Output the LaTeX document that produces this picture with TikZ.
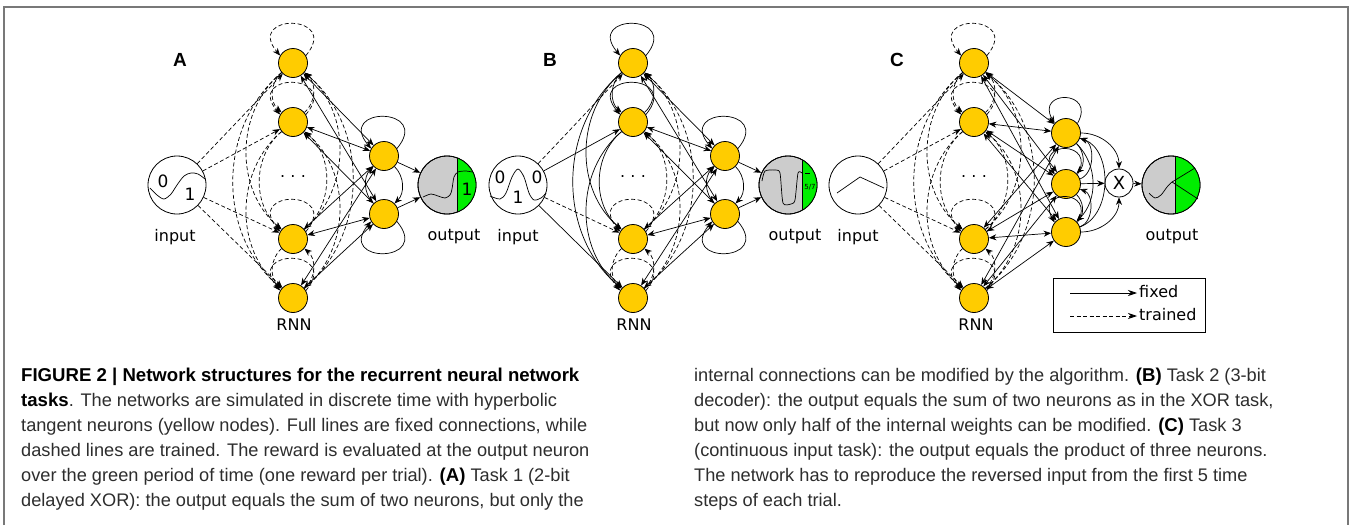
\documentclass[tikz,border=0pt]{standalone}
\usepackage{fontspec}
\setmainfont{Liberation Sans}
\newfontfamily\dvs{DejaVu Sans}
\newfontfamily\capf{Liberation Sans}
\usetikzlibrary{arrows.meta,calc}
\definecolor{neur}{RGB}{255,204,0}
\definecolor{outgray}{RGB}{204,204,204}
\definecolor{rewgreen}{RGB}{0,238,0}
\definecolor{framegray}{RGB}{120,120,120}
\definecolor{captext}{RGB}{45,45,45}
\newcommand\capb[1]{{\fontsize{18.6}{22}\selectfont\bfseries\color{black}#1}}
\begin{document}
\begin{tikzpicture}[x=1pt,y=1pt,
 neuron/.style={circle,draw,fill=neur,minimum size=29pt,inner sep=0pt,line width=0.8pt},
 io/.style={circle,draw,fill=white,minimum size=58pt,inner sep=0pt,line width=0.8pt},
 fixedarr/.style={line width=0.7pt,-{Stealth[length=7.5pt,width=6pt]}},
 fixedboth/.style={line width=0.7pt,{Stealth[length=7.5pt,width=6pt]}-{Stealth[length=7.5pt,width=6pt]}},
 trainedarr/.style={fixedarr,dash pattern=on 4pt off 2.5pt},
 wave/.style={line width=0.7pt},
 lbl/.style={font=\dvs\fontsize{16}{18}\selectfont},
 digit/.style={font=\dvs\fontsize{17}{18}\selectfont,inner sep=0pt},
 panelfont/.style={font=\bfseries\fontsize{19}{20}\selectfont},
 capl/.style={anchor=base west,inner sep=0pt,font=\capf\fontsize{18.2}{22}\selectfont,text=captext},
 legarr/.style={line width=0.8pt,-{Stealth[length=9pt,width=6pt]}},
]
\useasboundingbox (0,0) rectangle (1352,-525);
\draw[framegray,line width=2pt] (4,-525) -- (4,-7) -- (1348,-7) -- (1348,-525);

%================ PANEL A ================
\node[panelfont] (Alab) at (180,-60) {A};
\node[io] (Ain) at (177,-185) {};
\foreach \i/\y in {1/63,2/122,3/239,4/298} \node[neuron] (A\i) at (293,-\y) {};
\node[neuron] (Ah1) at (384,-156) {};
\node[neuron] (Ah2) at (384,-214) {};
\node[io,fill=outgray] (Aout) at (447,-185) {};
\node[lbl] (Adots) at (293,-177) {.\,\,.\,\,.};
\node[lbl] (Ainl) at (175,-237) {input};
\node[lbl] (Aoutl) at (454,-237) {output};
\node[lbl] (Arnnl) at (294,-325) {RNN};
% input waveform
\draw[wave] plot[smooth] coordinates {(150,-188) (157,-195) (164,-199) (171,-194) (177,-185) (184,-176) (191,-173) (198,-174) (205,-179)};
\node[digit] (Ain0) at (163,-181) {0};
\node[digit] (Ain1) at (190,-194) {1};
% output
\fill[rewgreen] ([shift={(69.8:29)}]Aout.center) arc[start angle=69.8,end angle=-69.8,radius=29] -- cycle;
\draw[line width=0.7pt] ([shift={(69.8:29)}]Aout.center) -- ([shift={(-69.8:29)}]Aout.center);
\draw[line width=0.8pt] (Aout.center) circle[radius=29];
\draw[wave] plot[smooth] coordinates {(423,-197) (431,-194) (438,-196) (445,-198) (450,-195) (452,-189) (454,-177) (458,-172) (466,-171) (472,-172)};
\node[digit] (Aout1) at (467,-189) {1};
% connections
\foreach \i in {1,...,4} \draw[trainedarr] (Ain) -- (A\i);
\foreach \i in {1,...,4} \draw[trainedarr] (A\i.30) to[out=50,in=130,looseness=5.5] (A\i.150);
\foreach \i in {1,...,4}{\foreach \j in {1,...,4}{\ifnum\i<\j
  \draw[trainedarr] (A\i) to[bend right=50] (A\j);
  \draw[trainedarr] (A\j) to[bend right=50] (A\i);
\fi}}
\foreach \i in {1,...,4}{\foreach \h in {1,2}{\draw[fixedboth] (A\i) -- (Ah\h);}}
\draw[fixedarr] (Ah1.30) to[out=50,in=130,looseness=5.5] (Ah1.150);
\draw[fixedarr] (Ah2.-30) to[out=-50,in=-130,looseness=5.5] (Ah2.-150);
\draw[fixedarr] (Ah1) to[bend left=45] (Ah2);
\draw[fixedarr] (Ah2) to[bend left=45] (Ah1);
\draw[fixedarr] (Ah1) -- (Aout);
\draw[fixedarr] (Ah2) -- (Aout);

%================ PANEL B ================
\node[panelfont] (Blab) at (550,-60) {B};
\node[io] (Bin) at (518,-185) {};
\foreach \i/\y in {1/63,2/122,3/239,4/298} \node[neuron] (B\i) at (633,-\y) {};
\node[neuron] (Bh1) at (725,-156) {};
\node[neuron] (Bh2) at (725,-214) {};
\node[io,fill=outgray] (Bout) at (788,-185) {};
\node[lbl] (Bdots) at (633,-177) {.\,\,.\,\,.};
\node[lbl] (Binl) at (518,-237) {input};
\node[lbl] (Boutl) at (795,-237) {output};
\node[lbl] (Brnnl) at (634,-325) {RNN};
\draw[wave] plot[smooth] coordinates {(490,-196) (500,-199) (506,-193) (512,-177) (518,-169) (524,-177) (529,-193) (534,-200) (541,-198) (546,-193)};
\node[digit] (Bin0a) at (500,-177) {0};
\node[digit] (Bin0b) at (537,-177) {0};
\node[digit] (Bin1) at (518,-197) {1};
\fill[rewgreen] ([shift={(61.1:29)}]Bout.center) arc[start angle=61.1,end angle=-61.1,radius=29] -- cycle;
\draw[line width=0.7pt] ([shift={(61.1:29)}]Bout.center) -- ([shift={(-61.1:29)}]Bout.center);
\draw[line width=0.8pt] (Bout.center) circle[radius=29];
\draw[wave] plot[smooth,tension=0.4] coordinates {(762,-181) (765,-171) (775,-170) (780,-173) (783,-203) (791,-204) (795,-200) (798,-173) (802,-173)};
\draw[wave] (805,-173) -- (810,-173);
\node[font=\dvs\fontsize{7}{8}\selectfont,inner sep=0pt] (Bfrac) at (810,-187) {5/7};
\foreach \i/\s in {1/trainedarr,2/fixedarr,3/trainedarr,4/fixedarr} \draw[\s] (Bin) -- (B\i);
\foreach \i/\s in {1/fixedarr,2/fixedarr,3/trainedarr,4/trainedarr} \draw[\s] (B\i.30) to[out=50,in=130,looseness=5.5] (B\i.150);
\foreach \i in {1,...,4}{\foreach \j in {1,...,4}{\ifnum\i<\j
  \ifnum\i<3 \draw[fixedarr] (B\i) to[bend right=50] (B\j);
  \else \draw[trainedarr] (B\i) to[bend right=50] (B\j);\fi
  \ifnum\j<3 \draw[fixedarr] (B\j) to[bend right=50] (B\i);
  \else \draw[trainedarr] (B\j) to[bend right=50] (B\i);\fi
\fi}}
\foreach \i in {1,...,4}{\foreach \h in {1,2}{\draw[fixedboth] (B\i) -- (Bh\h);}}
\draw[fixedarr] (Bh1.30) to[out=50,in=130,looseness=5.5] (Bh1.150);
\draw[fixedarr] (Bh2.-30) to[out=-50,in=-130,looseness=5.5] (Bh2.-150);
\draw[fixedarr] (Bh1) to[bend left=45] (Bh2);
\draw[fixedarr] (Bh2) to[bend left=45] (Bh1);
\draw[fixedarr] (Bh1) -- (Bout);
\draw[fixedarr] (Bh2) -- (Bout);

%================ PANEL C ================
\node[panelfont] (Clab) at (897,-60) {C};
\node[io] (Cin) at (858,-185) {};
\foreach \i/\y in {1/63,2/122,3/239,4/298} \node[neuron] (C\i) at (974,-\y) {};
\node[neuron] (Ch1) at (1066,-133) {};
\node[neuron] (Ch2) at (1066,-184) {};
\node[neuron] (Ch3) at (1066,-232) {};
\node[circle,draw,fill=white,minimum size=28pt,inner sep=0pt,line width=0.8pt,font=\dvs\fontsize{18}{18}\selectfont] (CX) at (1119,-183) {X};
\node[io,fill=outgray] (Cout) at (1171,-185) {};
\node[lbl] (Cdots) at (974,-177) {.\,\,.\,\,.};
\node[lbl] (Cinl) at (858,-237) {input};
\node[lbl] (Coutl) at (1172,-237) {output};
\node[lbl] (Crnnl) at (976,-325) {RNN};
\draw[wave] (837,-193) -- (860,-177) -- (884,-188);
\fill[rewgreen] ([shift={(82:29)}]Cout.center) arc[start angle=82,end angle=-82,radius=29] -- cycle;
\draw[line width=0.7pt] ([shift={(82:29)}]Cout.center) -- ([shift={(-82:29)}]Cout.center);
\draw[line width=0.8pt] (Cout.center) circle[radius=29];
\draw[wave] plot[smooth] coordinates {(1149,-193) (1155,-198) (1161,-195) (1167,-187) (1172,-182)};
\draw[wave] (1172,-182) -- (1198,-199);
\draw[wave] (1172,-182) -- (1195,-168);
\foreach \i in {1,...,4} \draw[trainedarr] (Cin) -- (C\i);
\foreach \i in {1,...,4} \draw[trainedarr] (C\i.30) to[out=50,in=130,looseness=5.5] (C\i.150);
\foreach \i in {1,...,4}{\foreach \j in {1,...,4}{\ifnum\i<\j
  \draw[trainedarr] (C\i) to[bend right=50] (C\j);
  \draw[trainedarr] (C\j) to[bend right=50] (C\i);
\fi}}
\foreach \i in {1,...,4}{\foreach \h in {1,2,3}{\draw[fixedboth] (C\i) -- (Ch\h);}}
\foreach \h in {1,2,3} \draw[fixedarr] (Ch\h.40) to[out=60,in=120,looseness=4.4] (Ch\h.140);
\foreach \i in {1,2,3}{\foreach \j in {1,2,3}{\ifnum\i<\j
  \draw[fixedarr] (Ch\i) to[bend left=45] (Ch\j);
  \draw[fixedarr] (Ch\j) to[bend right=70] (Ch\i);
\fi}}
\draw[fixedarr] (Ch1) to[out=0,in=90] (CX);
\draw[fixedarr] (Ch2) -- (CX);
\draw[fixedarr] (Ch3) to[out=0,in=-90] (CX);
\draw[fixedarr] (CX) -- (Cout);

% legend
\node[draw,line width=0.8pt,minimum width=152pt,minimum height=54pt,inner sep=0pt] (legend) at (1129,-305) {};
\coordinate (lf1) at (1070,-293);
\coordinate (lf2) at (1137,-293);
\coordinate (lt1) at (1070,-316);
\coordinate (lt2) at (1137,-316);
\draw[legarr] (lf1) -- (lf2);
\draw[legarr,dash pattern=on 4pt off 2.5pt] (lt1) -- (lt2);
\node[lbl,anchor=west,inner sep=0pt] (lfix) at (1139,-292) {fixed};
\node[lbl,anchor=west,inner sep=0pt] (ltra) at (1139,-315) {trained};

%================ CAPTION ================
\node[capl] (c1) at (21,-381) {\capb{FIGURE 2 | Network structures for the recurrent neural network}};
\node[capl] (c2) at (21,-406) {\capb{tasks}. The networks are simulated in discrete time with hyperbolic};
\node[capl] (c3) at (21,-431) {tangent neurons (yellow nodes). Full lines are fixed connections, while};
\node[capl] (c4) at (21,-456) {dashed lines are trained. The reward is evaluated at the output neuron};
\node[capl] (c5) at (21,-481) {over the green period of time (one reward per trial). \capb{(A)} Task 1 (2-bit};
\node[capl] (c6) at (21,-506) {delayed XOR): the output equals the sum of two neurons, but only the};
\node[capl] (r1) at (694,-381) {internal connections can be modified by the algorithm. \capb{(B)} Task 2 (3-bit};
\node[capl] (r2) at (694,-406) {decoder): the output equals the sum of two neurons as in the XOR task,};
\node[capl] (r3) at (694,-431) {but now only half of the internal weights can be modified. \capb{(C)} Task 3};
\node[capl] (r4) at (694,-456) {(continuous input task): the output equals the product of three neurons.};
\node[capl] (r5) at (694,-481) {The network has to reproduce the reversed input from the first 5 time};
\node[capl] (r6) at (694,-506) {steps of each trial.};
\end{tikzpicture}
\end{document}
